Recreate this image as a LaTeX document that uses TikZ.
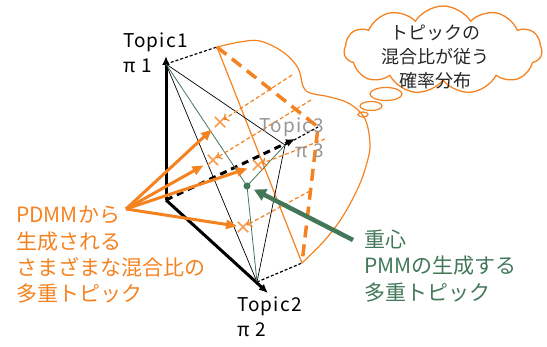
\documentclass[tikz,border=0pt]{standalone}
\usepackage{fontspec}
\setmainfont{Noto Sans CJK JP}
\newfontfamily\topicfont[LetterSpace=6]{Noto Sans CJK JP}
\usetikzlibrary{arrows.meta,shapes.symbols}
\definecolor{myorange}{RGB}{245,130,32}
\definecolor{mygreen}{RGB}{66,120,88}
\definecolor{mygray}{RGB}{150,150,150}
\begin{document}
\begin{tikzpicture}[x=1pt,y=-1pt,
 axis/.style={line width=3pt,black,-{Latex[length=9pt,width=8pt]}},
 axisdash/.style={line width=3pt,black,dash pattern=on 7pt off 5pt,-{Latex[length=9pt,width=8pt]}},
 thinblack/.style={line width=0.7pt,black},
 thindash/.style={line width=1.2pt,black,dash pattern=on 3pt off 2pt},
 oline/.style={line width=1.2pt,myorange},
 othick/.style={line width=3.5pt,myorange,dash pattern=on 12pt off 7pt},
 odash/.style={line width=1.2pt,myorange,dash pattern=on 4pt off 2.5pt,-{To[length=5pt,width=9pt]},shorten >=4pt},
 oarrow/.style={line width=3pt,myorange,-{Triangle[length=11pt,width=9pt]},shorten >=11pt},
 gline/.style={line width=0.8pt,mygreen},
 garrow/.style={line width=4.5pt,mygreen,-{Triangle[length=12pt,width=12pt]},shorten >=4pt},
 xpoint/.style={inner sep=0pt,minimum size=10pt},
 xline/.style={line width=1.6pt,myorange!80},
 lbl/.style={font=\topicfont\fontsize{19}{25}\selectfont,inner sep=0pt},
 otext/.style={font=\fontsize{21}{26.3}\selectfont,text=myorange,align=left,inner sep=0pt},
 gtext/.style={font=\fontsize{21}{26.5}\selectfont,text=mygreen,align=left,inner sep=0pt},
 ctext/.style={font=\fontsize{18}{24}\selectfont,text=black!85,align=center,inner sep=0pt},
]
\useasboundingbox (0,0) rectangle (547,347);
% points
\coordinate (O) at (166,200);
\coordinate (T1) at (166,56);
\coordinate (T2) at (268,293);
\coordinate (T3) at (295,139);
\coordinate (V1) at (166,64);
\coordinate (V2) at (257,282);
\coordinate (V3) at (285,145);
\coordinate (P1) at (217,47);
\coordinate (P2) at (302,263);
\coordinate (P3) at (318,127);
\coordinate (F) at (126,209);
\coordinate (G) at (353,240);
\coordinate (S1) at (292,75);
\coordinate (S2) at (311,100);
\coordinate (S3) at (325,139);
\coordinate (S4) at (310,191);

% blob
\draw[oline] plot[smooth,tension=0.6] coordinates {(217,47) (240,42) (260,41) (283,52) (298,68) (303,86) (310,93) (330,97) (350,104) (365,119) (370,145) (366,166) (358,188) (343,216) (325,240) (302,263)};
% projected triangle
\draw[oline] (P1) -- (P2);
\draw[othick] (P1) -- (P3) -- (P2);
\draw[thindash] (V1) -- (P1);
\draw[thindash] (V2) -- (P2);
\draw[thindash] (V3) -- (P3);

% cloud
\node[cloud,draw=myorange,line width=1.3pt,cloud puffs=11,cloud puff arc=115,aspect=2.2,minimum width=198pt,minimum height=88pt,inner sep=0pt] (cloud) at (443,50) {};
\node[ctext] (ctx) at (435,57) {トピックの\\混合比が従う\\確率分布};
\draw[myorange,line width=1.2pt] (386,94) ellipse [x radius=16pt,y radius=6.5pt];
\draw[myorange,line width=1.2pt] (371,106) ellipse [x radius=11pt,y radius=4.5pt];
\draw[myorange,line width=1.2pt] (363,114.5) ellipse [x radius=5pt,y radius=2.5pt];

% simplex
\draw[thinblack] (V1) -- (V3) -- (V2) -- cycle;
% axes
\draw[axis] (O) -- (T1);
\draw[axis] (O) -- (T2);
\draw[axisdash] (O) -- (T3);

% centroid
\node[circle,fill=mygreen,minimum size=7pt,inner sep=0pt] (C) at (247,186) {};
\draw[gline] (V1) -- (C.center);
\draw[gline] (V2) -- (C.center);
\draw[gline] (V3) -- (C.center);

% x marks
\node[xpoint] (X1) at (220,122) {};
\node[xpoint] (X2) at (213,160) {};
\node[xpoint] (X3) at (258,165) {};
\node[xpoint] (X4) at (243,227) {};
\foreach \n in {X1,X2,X3,X4}{
  \draw[xline] (\n.north west) -- (\n.south east);
  \draw[xline] (\n.north east) -- (\n.south west);
}

% dashed projections
\draw[odash] (S1) -- (X1.center);
\draw[odash] (S2) -- (X2.center);
\draw[odash] (S3) -- (X3.center);
\draw[odash] (S4) -- (X4.center);

% orange arrows
\draw[oarrow] (F) -- (X1.center);
\draw[oarrow] (F) -- (X2.center);
\draw[oarrow] (F) -- (X3.center);
\draw[oarrow,shorten >=6pt] (F) -- (X4.center);

% green arrow
\draw[garrow] (G) -- (C);

% labels
\node[lbl,align=left,anchor=west] (L1) at (123,53) {Topic1\\π 1};
\node[lbl,align=left,anchor=west] (L2) at (237,317) {Topic2\\π 2};
\node[lbl,align=right,anchor=east,text=mygray] (L3) at (324,138) {Topic3\\π 3};

\node[otext,anchor=west] (pdmm) at (16,255) {PDMMから\\生成される\\さまざまな混合比の\\多重トピック};
\node[gtext,anchor=west] (pmm) at (364,266) {重心\\PMMの生成する\\多重トピック};
\end{tikzpicture}
\end{document}
